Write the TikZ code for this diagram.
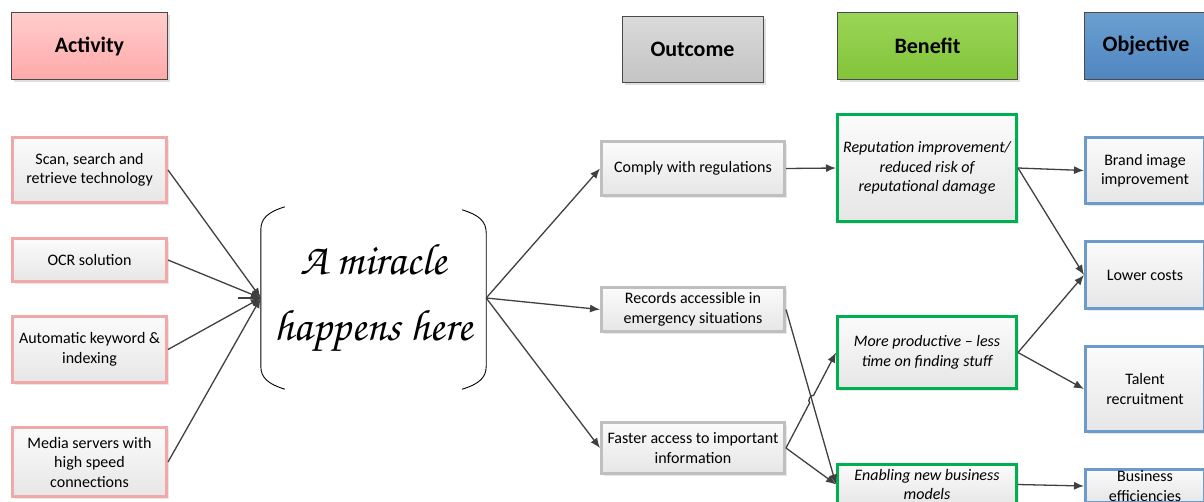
\documentclass[tikz,border=0pt]{standalone}
\usepackage{fontspec}
\setmainfont{Carlito}
\newfontfamily\chorus{TeX Gyre Chorus}
\usetikzlibrary{arrows.meta,shadows,calc}
\definecolor{linec}{HTML}{404040}
\definecolor{hdrline}{HTML}{4A4A4A}
\definecolor{actb}{HTML}{F0A8A8}
\definecolor{outb}{HTML}{BFBFBF}
\definecolor{benb}{HTML}{00B050}
\definecolor{objb}{HTML}{6C9BCB}
\definecolor{boxtop}{HTML}{FBFBFB}
\definecolor{boxbot}{HTML}{E6E6E6}
\definecolor{pinkt}{HTML}{FFCDCD}
\definecolor{pinkb}{HTML}{FFA9A9}
\definecolor{grayt}{HTML}{DADADA}
\definecolor{grayb}{HTML}{C4C4C4}
\definecolor{greent}{HTML}{99D556}
\definecolor{greenb}{HTML}{83C43A}
\definecolor{bluet}{HTML}{6B9FD1}
\definecolor{blueb}{HTML}{4F86BF}
\begin{document}
\begin{tikzpicture}[x=1pt,y=-1pt,
  hdr/.style={draw=hdrline, line width=0.9pt, inner sep=0pt,
    font=\fontsize{22}{26}\selectfont\bfseries,
    drop shadow={shadow xshift=2.5pt,shadow yshift=-2.5pt,opacity=0.25}},
  card/.style={line width=3pt, inner sep=0pt, align=center,
    top color=boxtop, bottom color=boxbot,
    font=\fontsize{16}{19.5}\selectfont,
    drop shadow={shadow xshift=2.5pt,shadow yshift=-2.5pt,opacity=0.18}},
  actbox/.style={card, draw=actb, minimum width=154},
  outbox/.style={card, draw=outb, minimum width=183},
  benbox/.style={card, draw=benb, minimum width=179, font=\fontsize{16}{19.5}\selectfont\itshape},
  objbox/.style={card, draw=objb, minimum width=119},
  arr/.style={draw=linec, line width=1.3pt, -{Latex[length=10pt,width=8pt]}},
  brk/.style={draw=black, line width=0.9pt}
]
\useasboundingbox (0,0) rectangle (1204,501);

% headers
\node[hdr, top color=pinkt, bottom color=pinkb, minimum width=156, minimum height=67] (hact) at (89.5,46) {Activity};
\node[hdr, top color=grayt, bottom color=grayb, minimum width=141, minimum height=66] (hout) at (692.5,49.5) {Outcome};
\node[hdr, top color=greent, bottom color=greenb, minimum width=180, minimum height=67] (hben) at (927.5,46) {Benefit};
\node[hdr, top color=bluet, bottom color=blueb, minimum width=124, minimum height=67] (hobj) at (1146,46) {Objective};

% activities
\node[actbox, minimum height=65] (scan) at (89.5,170) {Scan, search and\\retrieve technology};
\node[actbox, minimum height=43] (ocr) at (89.5,260) {OCR solution};
\node[actbox, minimum height=66] (auto) at (89.5,349.5) {Automatic keyword \&\\indexing};
\node[actbox, minimum height=69] (media) at (89.5,462) {Media servers with\\high speed\\connections};

% miracle
\node[minimum width=225, minimum height=182, inner sep=0pt, align=center,
  font=\chorus\fontsize{44}{66}\selectfont] (mir) at (373.5,298) {A miracle\\happens here};
\draw[brk] ($(mir.north west)+(24,0)$) .. controls +(-16,5) and +(0,-12) .. ($(mir.north west)+(0,23)$)
  -- ($(mir.south west)+(0,-23)$) .. controls +(0,12) and +(-16,-5) .. ($(mir.south west)+(24,0)$);
\draw[brk] ($(mir.north east)+(-24,3)$) .. controls +(16,5) and +(0,-12) .. ($(mir.north east)+(0,26)$)
  -- ($(mir.south east)+(0,-23)$) .. controls +(0,12) and +(16,-5) .. ($(mir.south east)+(-24,0)$);

% outcomes
\node[outbox, minimum height=54] (comply) at (693,168.5) {Comply with regulations};
\node[outbox, minimum height=44] (rec) at (693,309.5) {Records accessible in\\emergency situations};
\node[outbox, minimum height=51] (fast) at (693,448) {Faster access to important\\information};

% benefits
\node[benbox, minimum height=107] (rep) at (927,168) {Reputation improvement/\\reduced risk of\\reputational damage};
\node[benbox, minimum height=72] (prod) at (927,352.5) {More productive -- less\\time on finding stuff};
\node[benbox, minimum height=40] (enab) at (927,484.5) {Enabling new business\\models};

% objectives
\node[objbox, minimum height=66] (brand) at (1145,170.5) {Brand image\\improvement};
\node[objbox, minimum height=67] (lower) at (1145,275) {Lower costs};
\node[objbox, minimum height=85] (talent) at (1145,389) {Talent\\recruitment};
\node[objbox, minimum height=33] (busi) at (1145,486) {Business\\efficiencies};

% connectors: activities -> miracle
\coordinate (stub) at (238,298);
\draw[draw=linec, line width=1.6pt] (stub) -- (mir.west);
\draw[arr] (scan.east) -- (mir.west);
\draw[arr] (ocr.east) -- (mir.west);
\draw[arr] (auto.east) -- (mir.west);
\draw[arr] (media.east) -- (mir.west);

% miracle -> outcomes
\draw[arr] (mir.east) -- (comply.west);
\draw[arr] (mir.east) -- (rec.west);
\draw[arr] (mir.east) -- (fast.west);

% outcomes -> benefits
\draw[arr] (comply.east) -- (rep.west);
\draw[arr] (rec.east) -- (enab.west);
\coordinate (h1) at ($(fast.east)!0.475!(prod.west)$);
\coordinate (h2) at ($(fast.east)!0.55!(prod.west)$);
\draw[arr] (fast.east) -- (h1) to[bend left=90] (h2) -- (prod.west);
\draw[arr] (fast.east) -- (enab.west);

% benefits -> objectives
\draw[arr] (rep.east) -- (brand.west);
\draw[arr] (rep.east) -- (lower.west);
\draw[arr] (prod.east) -- (lower.west);
\draw[arr] (prod.east) -- (talent.west);
\draw[arr] (enab.east) -- (busi.west);
\end{tikzpicture}
\end{document}
